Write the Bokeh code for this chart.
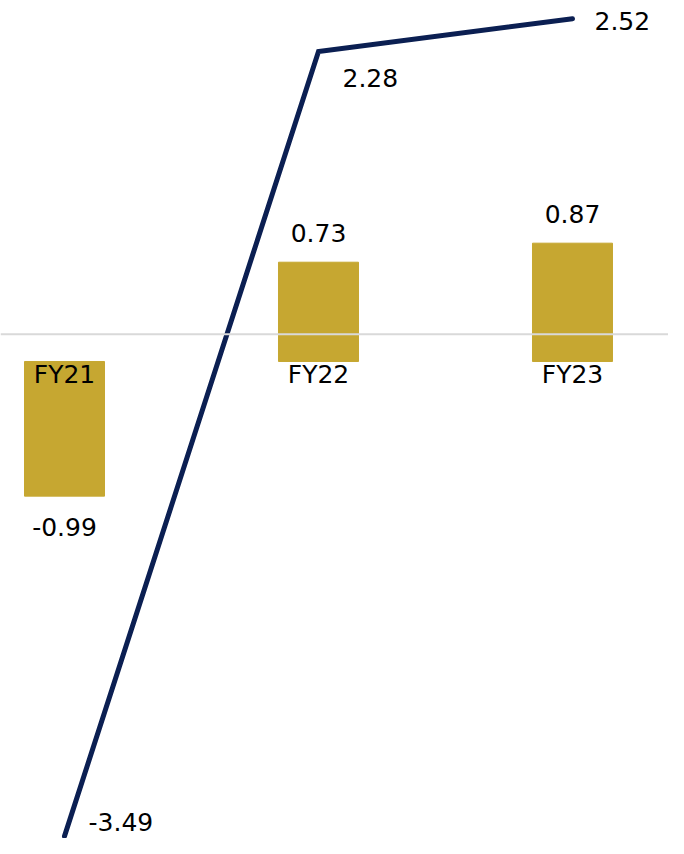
from bokeh.plotting import figure
from bokeh.models import ColumnDataSource, Span, Range1d
from bokeh.core.properties import value
from bokeh.embed import file_html
from bokeh.resources import INLINE

categories = ["FY21", "FY22", "FY23"]
bar_values = [-0.99, 0.73, 0.87]
line_values = [-3.49, 2.28, 2.52]
ref_line_value = 0.2

FONT = "DejaVu Sans"
FS = "25px"
BAR_COLOR = "#C6A731"
LINE_COLOR = "#0B1F52"

xs = list(range(len(categories)))

p = figure(width=668, height=838, output_backend="svg", toolbar_location=None,
           x_range=Range1d(-0.252, 2.378), y_range=Range1d(-3.5074, 2.6544),
           min_border=0, outline_line_color=None)
p.axis.visible = False
p.grid.visible = False
p.background_fill_color = "white"

bar_src = ColumnDataSource(dict(
    x=xs, top=bar_values, cat=categories,
    lbl=[f"{v:.2f}" for v in bar_values],
    lbl_off=[22 if v < 0 else -20 for v in bar_values],
    lbl_base=["top" if v < 0 else "bottom" for v in bar_values],
))
p.vbar(x="x", top="top", bottom=0, width=0.315, color=BAR_COLOR, source=bar_src)

p.add_layout(Span(location=ref_line_value, dimension="width",
                  line_color="#D9D9D9", line_width=2))

line_src = ColumnDataSource(dict(
    x=xs, y=line_values,
    lbl=[f"{v:.2f}" for v in line_values],
    xo=[24, 24, 22], yo=[-14, 27, 2],
))
p.line(x="x", y="y", source=line_src, line_color=LINE_COLOR, line_width=5,
       line_cap="round", line_join="miter")

# category labels just under zero
p.text(x="x", y=0, text="cat", source=bar_src, text_align="center",
       text_baseline="middle", y_offset=13, text_font=value(FONT),
       text_font_size=FS, text_color="#000000")

# bar value labels
p.text(x="x", y="top", text="lbl", source=bar_src, text_align="center",
       text_baseline="lbl_base", y_offset="lbl_off", text_font=value(FONT),
       text_font_size=FS, text_color="#000000")

# line value labels
p.text(x="x", y="y", text="lbl", source=line_src, text_align="left",
       text_baseline="middle", x_offset="xo", y_offset="yo",
       text_font=value(FONT), text_font_size=FS, text_color="#000000")

open("out.html", "w").write(file_html(p, INLINE))
